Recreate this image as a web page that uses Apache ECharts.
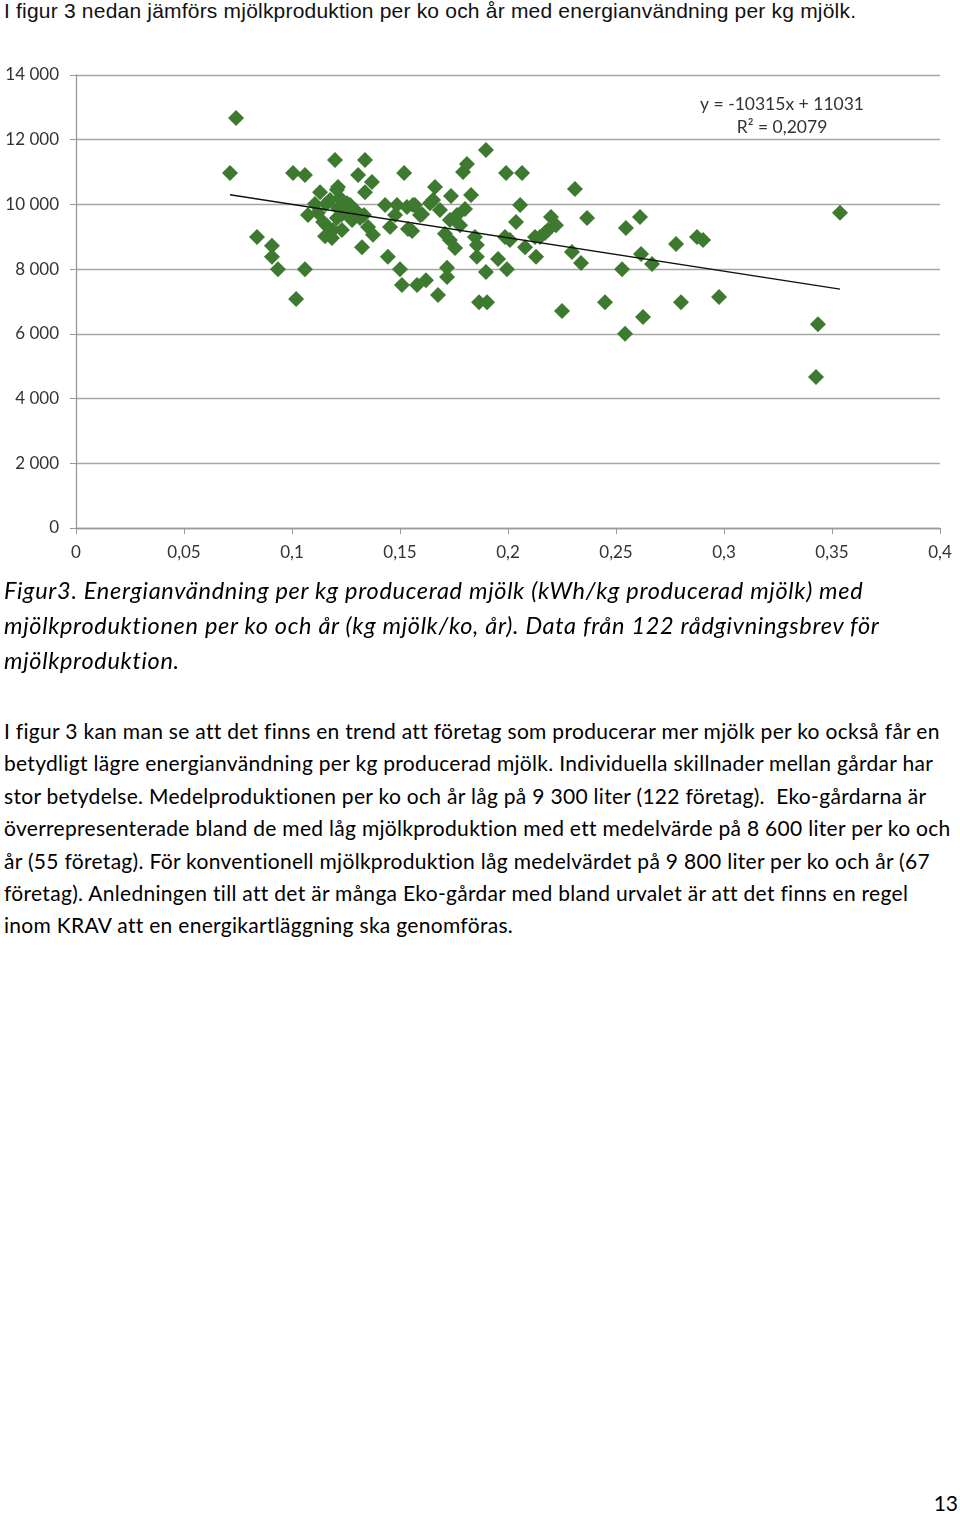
<!DOCTYPE html>
<html>
<head>
<meta charset="utf-8">
<script src="https://cdn.jsdelivr.net/npm/echarts@6/dist/echarts.min.js"></script>
<style>
  html, body { margin: 0; padding: 0; background: #fff; }
  body { width: 960px; height: 1514px; position: relative; overflow: hidden; color: #000; }
  #chart { position: absolute; left: 0; top: 0; width: 960px; height: 580px; }
  .intro { position: absolute; left: 4px; top: -2px; font-family: "Liberation Sans", Arial, sans-serif; font-size: 21px; letter-spacing: 0.2px; line-height: 26px; white-space: nowrap; color: #111; }
  .caption { position: absolute; left: 4px; top: 573px; font-family: Lato, sans-serif; font-style: italic; font-size: 23.5px; letter-spacing: 0.7px; line-height: 35px; white-space: nowrap; }
  .body { position: absolute; left: 4px; top: 715px; font-family: Lato, sans-serif; font-size: 21px; letter-spacing: 0.3px; line-height: 32.4px; white-space: nowrap; }
  .page { position: absolute; right: 2px; top: 1490px; font-family: Lato, sans-serif; font-size: 21px; }
</style>
</head>
<body>
<div class="intro">I figur 3 nedan jämförs mjölkproduktion per ko och år med energianvändning per kg mjölk.</div>
<div id="chart"></div>
<div class="caption">Figur3. Energianvändning per kg producerad mjölk (kWh/kg producerad mjölk) med<br>mjölkproduktionen per ko och år (kg mjölk/ko, år). Data från 122 rådgivningsbrev för<br>mjölkproduktion.</div>
<div class="body">I figur 3 kan man se att det finns en trend att företag som producerar mer mjölk per ko också får en<br>betydligt lägre energianvändning per kg producerad mjölk. Individuella skillnader mellan gårdar har<br>stor betydelse. Medelproduktionen per ko och år låg på 9 300 liter (122 företag).&nbsp; Eko-gårdarna är<br>överrepresenterade bland de med låg mjölkproduktion med ett medelvärde på 8 600 liter per ko och<br>år (55 företag). För konventionell mjölkproduktion låg medelvärdet på 9 800 liter per ko och år (67<br>företag). Anledningen till att det är många Eko-gårdar med bland urvalet är att det finns en regel<br>inom KRAV att en energikartläggning ska genomföras.</div>
<div class="page">13</div>
<script>
// Energy use per kg milk (kWh/kg)
const energyPerKg = [
  0.0741, 0.0713, 0.1005, 0.1060, 0.1199, 0.1338, 0.1306, 0.1370, 0.1338, 0.1519,
  0.1130, 0.1208, 0.1106, 0.1157, 0.1074, 0.1144, 0.1208, 0.1278, 0.1292, 0.1255,
  0.1222, 0.1245, 0.1190, 0.1153, 0.1231, 0.1185, 0.1352, 0.1375, 0.1324, 0.1431,
  0.1486, 0.1532, 0.1569, 0.1454, 0.1537, 0.1444, 0.0838, 0.0907, 0.0907, 0.0935,
  0.1060, 0.1019, 0.1500, 0.1509, 0.1579, 0.1620, 0.1676, 0.1718, 0.1718, 0.1898,
  0.1810, 0.1792, 0.1991, 0.2065, 0.1662, 0.1736, 0.1829, 0.1560, 0.1639, 0.1602,
  0.1801, 0.1764, 0.1731, 0.2056, 0.2037, 0.1556, 0.1708, 0.1731, 0.1847, 0.1856,
  0.1986, 0.1755, 0.2079, 0.2125, 0.1856, 0.1898, 0.1954, 0.1995, 0.1866, 0.1903,
  0.2130, 0.2250, 0.2310, 0.2199, 0.2366, 0.2185, 0.2148, 0.2171, 0.2296, 0.2338,
  0.2449, 0.2546, 0.2611, 0.2528, 0.2616, 0.2667, 0.2625, 0.2542, 0.2778, 0.2875,
  0.2903, 0.2801, 0.2977, 0.3435, 0.3426, 0.3537, 0.1593, 0.1653, 0.1269, 0.1213,
  0.1176, 0.1315, 0.1120, 0.1231, 0.1477, 0.1778, 0.2009, 0.1685, 0.1162, 0.1213,
  0.1333, 0.2222
];
// Milk production per cow and year (kg)
const milkPerCow = [
  12670, 10970, 10970, 10910, 11370, 11370, 10910, 10690, 10380, 10970,
  10380, 10450, 10010, 10010, 9670, 9460, 9580, 9520, 9830, 10040,
  10200, 9770, 9210, 9020, 9210, 8960, 9300, 9060, 8680, 9980,
  9980, 9920, 9980, 9300, 9240, 8380, 8990, 8720, 8380, 8000,
  8000, 7080, 8000, 7510, 7510, 7660, 7200, 8040, 7760, 11680,
  11250, 11000, 10970, 10970, 10540, 10260, 10290, 9980, 10040, 9700,
  9860, 9670, 9520, 9980, 9460, 9180, 9090, 8900, 8990, 8750,
  8990, 8650, 8680, 8990, 8380, 7910, 8310, 8000, 6980, 6980,
  8380, 6710, 10480, 9610, 9580, 9210, 8990, 9120, 8530, 8190,
  6980, 9270, 9610, 8000, 8470, 8160, 6520, 6000, 8780, 8990,
  8900, 6980, 7140, 6300, 4670, 9740, 9670, 10140, 9980, 9890,
  10140, 9580, 9740, 9700, 9670, 9360, 8900, 9830, 9330, 10540,
  9670, 9360
];
// Linear trend line as shown in the chart
const trendSlope = -10315;
const trendIntercept = 11031;
const trendLabel = ["y = -10315x + 11031", "R\u00b2 = 0,2079"];
const xTicks = { min: 0, max: 0.4, interval: 0.05 };
const yTicks = { min: 0, max: 14000, interval: 2000 };

const points = energyPerKg.map((x, i) => [x, milkPerCow[i]]);
const xMin = Math.min(...energyPerKg), xMax = Math.max(...energyPerKg);
const trend = [[xMin, trendSlope * xMin + trendIntercept], [xMax, trendSlope * xMax + trendIntercept]];

const chart = echarts.init(document.getElementById('chart'), null, { renderer: 'canvas' });
const labelFont = { fontFamily: 'Lato, sans-serif', fontSize: 17, color: '#333' };
chart.setOption({
  animation: false,
  grid: { left: 76, right: 20, top: 75, height: 453, containLabel: false },
  xAxis: {
    type: 'value', min: xTicks.min, max: xTicks.max, interval: xTicks.interval,
    axisLine: { show: true, onZero: false, lineStyle: { color: '#999', width: 1.3 } },
    axisTick: { show: true, length: 6, lineStyle: { color: '#999' } },
    splitLine: { show: false },
    axisLabel: Object.assign({ margin: 16, formatter: v => String(+v.toFixed(2)).replace('.', ',') }, labelFont)
  },
  yAxis: {
    type: 'value', min: yTicks.min, max: yTicks.max, interval: yTicks.interval,
    axisLine: { show: true, lineStyle: { color: '#999', width: 1.3 } },
    axisTick: { show: true, length: 6, lineStyle: { color: '#999' } },
    splitLine: { show: true, lineStyle: { color: '#a6a6a6', width: 1.3 } },
    axisLabel: Object.assign({ margin: 17, formatter: v => String(v).replace(/\B(?=(\d{3})+(?!\d))/g, ' ') }, labelFont)
  },
  series: [
    {
      type: 'scatter', data: points, symbol: 'diamond', symbolSize: 16,
      itemStyle: { color: '#3d7a2f', opacity: 1 }, z: 2
    },
    {
      type: 'line', data: trend, symbol: 'none', z: 3,
      lineStyle: { color: '#111', width: 1.5 }
    }
  ],
  graphic: [
    { type: 'text', x: 782, y: 95, style: { text: trendLabel[0], align: 'center', fontFamily: 'Lato, sans-serif', fontSize: 17.5, fill: '#333' } },
    { type: 'text', x: 782, y: 118, style: { text: trendLabel[1], align: 'center', fontFamily: 'Lato, sans-serif', fontSize: 17.5, fill: '#333' } }
  ]
});
</script>
</body>
</html>
